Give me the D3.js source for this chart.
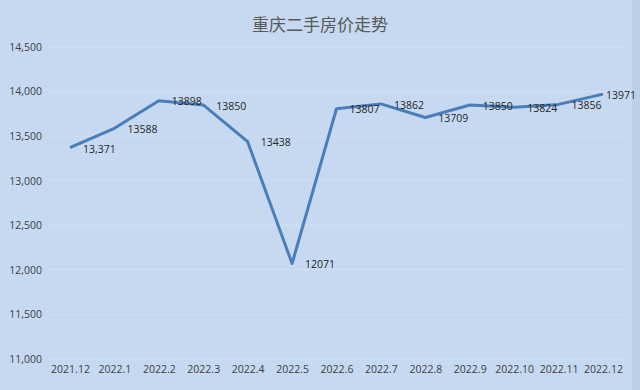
<!DOCTYPE html>
<html>
<head>
<meta charset="utf-8">
<script src="https://cdn.jsdelivr.net/npm/d3@7"></script>
<style>
  html, body { margin: 0; padding: 0; background: #c6d9f0; }
  svg { display: block; }
</style>
</head>
<body>
<div id="chart"></div>
<script>
const width = 640;
const height = 390;

const months = ["2021.12", "2022.1", "2022.2", "2022.3", "2022.4", "2022.5", "2022.6",
    "2022.7", "2022.8", "2022.9", "2022.10", "2022.11", "2022.12"];
const prices = [13371, 13588, 13898, 13850, 13438, 12071, 13807, 13862, 13709, 13850, 13824, 13856, 13971];
const yTicks = [11000, 11500, 12000, 12500, 13000, 13500, 14000, 14500];

const svg = d3.select("#chart").append("svg").attr("width", width).attr("height", height);

// background + slightly darker right edge like the screenshot
svg.append("rect").attr("width", width).attr("height", height).attr("fill", "#c6d9f0");
svg.append("rect").attr("x", 632).attr("width", 8).attr("height", height).attr("fill", "#bccfe6");

const x = d3.scalePoint().domain(months).range([70, 603]);
const y = d3.scaleLinear().domain([11000, 14500]).range([359, 47]);

// gridlines
svg.append("g")
    .selectAll("line")
    .data(yTicks)
    .join("line")
    .attr("x1", 48).attr("x2", 626)
    .attr("y1", d => y(d)).attr("y2", d => y(d))
    .attr("stroke", "#d3e0f1").attr("stroke-width", 1);

// y axis labels
const yAxis = d3.axisLeft(y).tickValues(yTicks).tickFormat(d3.format(",")).tickSize(0).tickPadding(0);
svg.append("g")
    .attr("transform", "translate(42,0)")
    .call(yAxis)
    .call(g => g.select(".domain").remove())
    .selectAll("text")
    .attr("font-family", "'Open Sans', 'Liberation Sans', sans-serif")
    .attr("font-size", 10.5)
    .attr("fill", "#404040");

// x axis labels
const xAxis = d3.axisBottom(x).tickSize(0).tickPadding(0);
svg.append("g")
    .attr("transform", "translate(0,366)")
    .call(xAxis)
    .call(g => g.select(".domain").remove())
    .selectAll("text")
    .attr("font-family", "'Open Sans', 'Liberation Sans', sans-serif")
    .attr("font-size", 10.5)
    .attr("fill", "#404040");

// title
svg.append("text")
    .attr("x", 320).attr("y", 31)
    .attr("text-anchor", "middle")
    .attr("font-family", "'Noto Sans CJK SC', sans-serif")
    .attr("font-size", 17)
    .attr("fill", "#595959")
    .text("重庆二手房价走势");

// line
const line = d3.line()
    .x((d, i) => x(months[i]))
    .y(d => y(d));

svg.append("path")
    .datum(prices)
    .attr("d", line)
    .attr("fill", "none")
    .attr("stroke", "#4a7ebb")
    .attr("stroke-width", 3)
    .attr("stroke-linejoin", "round");

// data labels (first one has a thousands separator in the original)
svg.append("g")
    .selectAll("text")
    .data(prices)
    .join("text")
    .attr("x", (d, i) => x(months[i]) + (i === prices.length - 1 ? 3 : 13))
    .attr("y", (d, i) => y(d) + (i === 0 ? 2 : 1))
    .attr("dy", "0.35em")
    .attr("font-family", "'Open Sans', 'Liberation Sans', sans-serif")
    .attr("font-size", 10.5)
    .attr("fill", "#262626")
    .text((d, i) => i === 0 ? d3.format(",")(d) : d);
</script>
</body>
</html>
